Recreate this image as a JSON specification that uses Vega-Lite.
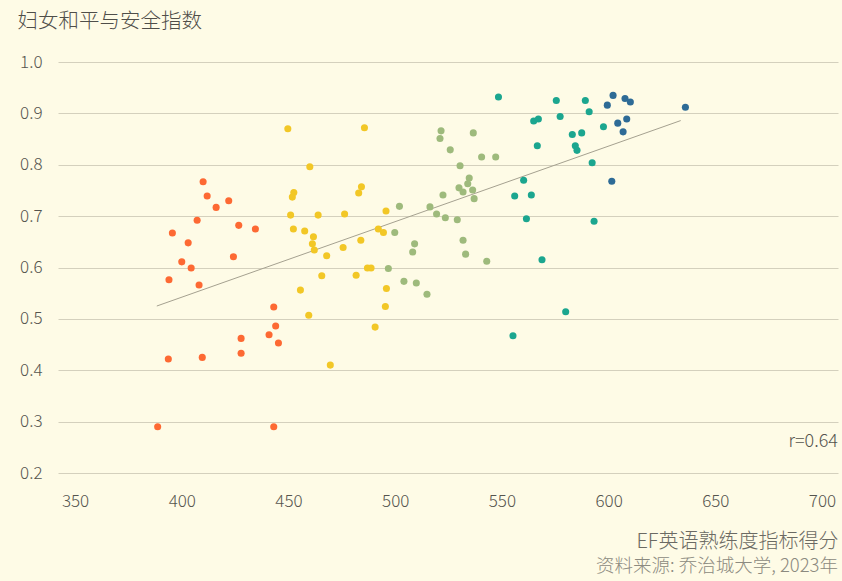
{
  "$schema": "https://vega.github.io/schema/vega-lite/v6.json",
  "autosize": {"type": "none"},
  "padding": {"left": 58, "top": 62, "right": 4, "bottom": 108},
  "width": 780,
  "height": 411,
  "background": "#fefbe6",
  "config": {
    "view": {"stroke": null},
    "font": "Noto Sans CJK SC",
    "axis": {"domain": false, "ticks": false, "labelFont": "Noto Sans CJK SC", "labelColor": "#55544e", "labelFontSize": 17, "labelFontWeight": 300, "titleFont": "Noto Sans CJK SC", "titleFontWeight": 300}
  },
  "title": {
    "text": "资料来源: 乔治城大学, 2023年",
    "orient": "bottom",
    "anchor": "end",
    "fontSize": 18.5,
    "fontWeight": 300,
    "color": "#8c8a80",
    "offset": 6
  },
  "datasets": {
    "pts": [
      {"g": "A", "x": 410.0, "y": 0.767},
      {"g": "A", "x": 411.9, "y": 0.739},
      {"g": "A", "x": 416.1, "y": 0.717},
      {"g": "A", "x": 422.0, "y": 0.730},
      {"g": "A", "x": 407.2, "y": 0.692},
      {"g": "A", "x": 426.7, "y": 0.682},
      {"g": "A", "x": 434.5, "y": 0.675},
      {"g": "A", "x": 395.6, "y": 0.667},
      {"g": "A", "x": 403.0, "y": 0.648},
      {"g": "A", "x": 424.2, "y": 0.621},
      {"g": "A", "x": 400.0, "y": 0.611},
      {"g": "A", "x": 404.4, "y": 0.599},
      {"g": "A", "x": 394.0, "y": 0.576},
      {"g": "A", "x": 408.1, "y": 0.566},
      {"g": "A", "x": 443.1, "y": 0.523},
      {"g": "A", "x": 444.0, "y": 0.486},
      {"g": "A", "x": 440.9, "y": 0.469},
      {"g": "A", "x": 445.3, "y": 0.453},
      {"g": "A", "x": 427.8, "y": 0.462},
      {"g": "A", "x": 427.8, "y": 0.433},
      {"g": "A", "x": 393.7, "y": 0.422},
      {"g": "A", "x": 409.6, "y": 0.425},
      {"g": "A", "x": 388.7, "y": 0.290},
      {"g": "A", "x": 443.1, "y": 0.290},
      {"g": "B", "x": 460.0, "y": 0.796},
      {"g": "B", "x": 452.5, "y": 0.746},
      {"g": "B", "x": 451.8, "y": 0.737},
      {"g": "B", "x": 451.0, "y": 0.702},
      {"g": "B", "x": 463.9, "y": 0.702},
      {"g": "B", "x": 452.3, "y": 0.675},
      {"g": "B", "x": 457.6, "y": 0.671},
      {"g": "B", "x": 461.7, "y": 0.660},
      {"g": "B", "x": 461.2, "y": 0.646},
      {"g": "B", "x": 462.1, "y": 0.634},
      {"g": "B", "x": 455.6, "y": 0.556},
      {"g": "B", "x": 459.5, "y": 0.507},
      {"g": "B", "x": 449.7, "y": 0.870},
      {"g": "B", "x": 485.6, "y": 0.872},
      {"g": "B", "x": 484.2, "y": 0.757},
      {"g": "B", "x": 482.9, "y": 0.745},
      {"g": "B", "x": 476.3, "y": 0.704},
      {"g": "B", "x": 495.7, "y": 0.710},
      {"g": "B", "x": 492.1, "y": 0.675},
      {"g": "B", "x": 494.5, "y": 0.668},
      {"g": "B", "x": 467.9, "y": 0.623},
      {"g": "B", "x": 475.6, "y": 0.639},
      {"g": "B", "x": 483.9, "y": 0.653},
      {"g": "B", "x": 465.6, "y": 0.584},
      {"g": "B", "x": 481.7, "y": 0.585},
      {"g": "B", "x": 487.0, "y": 0.599},
      {"g": "B", "x": 488.7, "y": 0.599},
      {"g": "B", "x": 495.9, "y": 0.559},
      {"g": "B", "x": 495.4, "y": 0.524},
      {"g": "B", "x": 490.6, "y": 0.484},
      {"g": "B", "x": 469.6, "y": 0.410},
      {"g": "C", "x": 502.0, "y": 0.719},
      {"g": "C", "x": 499.8, "y": 0.668},
      {"g": "C", "x": 509.1, "y": 0.646},
      {"g": "C", "x": 508.2, "y": 0.630},
      {"g": "C", "x": 496.8, "y": 0.598},
      {"g": "C", "x": 504.1, "y": 0.573},
      {"g": "C", "x": 509.9, "y": 0.570},
      {"g": "C", "x": 514.9, "y": 0.548},
      {"g": "C", "x": 521.5, "y": 0.866},
      {"g": "C", "x": 521.0, "y": 0.851},
      {"g": "C", "x": 536.6, "y": 0.862},
      {"g": "C", "x": 525.8, "y": 0.829},
      {"g": "C", "x": 540.5, "y": 0.815},
      {"g": "C", "x": 547.1, "y": 0.815},
      {"g": "C", "x": 530.4, "y": 0.798},
      {"g": "C", "x": 534.7, "y": 0.774},
      {"g": "C", "x": 534.0, "y": 0.763},
      {"g": "C", "x": 529.9, "y": 0.755},
      {"g": "C", "x": 531.8, "y": 0.747},
      {"g": "C", "x": 536.3, "y": 0.751},
      {"g": "C", "x": 537.0, "y": 0.734},
      {"g": "C", "x": 522.4, "y": 0.741},
      {"g": "C", "x": 516.3, "y": 0.718},
      {"g": "C", "x": 519.4, "y": 0.704},
      {"g": "C", "x": 523.5, "y": 0.697},
      {"g": "C", "x": 529.1, "y": 0.693},
      {"g": "C", "x": 531.8, "y": 0.653},
      {"g": "C", "x": 533.0, "y": 0.626},
      {"g": "C", "x": 542.9, "y": 0.612},
      {"g": "D", "x": 548.4, "y": 0.932},
      {"g": "D", "x": 575.5, "y": 0.925},
      {"g": "D", "x": 589.1, "y": 0.925},
      {"g": "D", "x": 590.9, "y": 0.903},
      {"g": "D", "x": 577.3, "y": 0.894},
      {"g": "D", "x": 564.9, "y": 0.885},
      {"g": "D", "x": 567.1, "y": 0.889},
      {"g": "D", "x": 597.6, "y": 0.874},
      {"g": "D", "x": 583.0, "y": 0.859},
      {"g": "D", "x": 587.4, "y": 0.862},
      {"g": "D", "x": 566.6, "y": 0.837},
      {"g": "D", "x": 584.4, "y": 0.837},
      {"g": "D", "x": 585.2, "y": 0.828},
      {"g": "D", "x": 592.3, "y": 0.804},
      {"g": "D", "x": 560.2, "y": 0.770},
      {"g": "D", "x": 556.0, "y": 0.739},
      {"g": "D", "x": 563.8, "y": 0.741},
      {"g": "D", "x": 561.5, "y": 0.695},
      {"g": "D", "x": 593.2, "y": 0.690},
      {"g": "D", "x": 568.8, "y": 0.615},
      {"g": "D", "x": 579.9, "y": 0.514},
      {"g": "D", "x": 555.2, "y": 0.467},
      {"g": "E", "x": 602.1, "y": 0.935},
      {"g": "E", "x": 607.7, "y": 0.929},
      {"g": "E", "x": 610.2, "y": 0.922},
      {"g": "E", "x": 599.4, "y": 0.916},
      {"g": "E", "x": 604.3, "y": 0.881},
      {"g": "E", "x": 608.5, "y": 0.889},
      {"g": "E", "x": 606.8, "y": 0.864},
      {"g": "E", "x": 601.5, "y": 0.768},
      {"g": "E", "x": 636.0, "y": 0.912}
    ],
    "trend": [
      {"x": 388.3, "y": 0.525},
      {"x": 633.8, "y": 0.886}
    ],
    "note": [
      {"label": "r=0.64"}
    ]
  },
  "layer": [
    {
      "data": {"name": "trend"},
      "mark": {"type": "line", "color": "#a5a190", "strokeWidth": 1},
      "encoding": {
        "x": {
          "field": "x", "type": "quantitative",
          "scale": {"domain": [342, 707.5], "nice": false, "zero": false},
          "axis": {"values": [350, 400, 450, 500, 550, 600, 650, 700], "grid": false, "labelPadding": 20,
            "title": "EF英语熟练度指标得分", "titleFontSize": 20, "titleColor": "#6b6a63",
            "titleAnchor": "end", "titleAlign": "right", "titleBaseline": "middle", "titleX": 780, "titleY": 68}
        },
        "y": {
          "field": "y", "type": "quantitative",
          "scale": {"domain": [0.2, 1.0], "nice": false, "zero": false},
          "axis": {"values": [0.2, 0.3, 0.4, 0.5, 0.6, 0.7, 0.8, 0.9, 1.0], "format": ".1f", "grid": true,
            "gridColor": "#d4d0bd", "gridWidth": 1, "labelPadding": 16,
            "title": "妇女和平与安全指数", "titleFontSize": 20.5, "titleColor": "#4f4e49", "titleAngle": 0,
            "titleAlign": "left", "titleBaseline": "middle", "titleX": -41, "titleY": -41}
        }
      }
    },
    {
      "data": {"name": "pts"},
      "mark": {"type": "circle", "size": 50, "opacity": 1},
      "encoding": {
        "x": {"field": "x", "type": "quantitative"},
        "y": {"field": "y", "type": "quantitative"},
        "color": {"field": "g", "type": "nominal", "legend": null,
          "scale": {"domain": ["A", "B", "C", "D", "E"], "range": ["#fd6933", "#f2c726", "#9eba7c", "#1ba68f", "#2e6b96"]}}
      }
    },
    {
      "data": {"name": "note"},
      "mark": {"type": "text", "align": "right", "baseline": "middle", "fontSize": 18, "fontWeight": 300, "color": "#55544e"},
      "encoding": {
        "x": {"datum": 707.5},
        "y": {"datum": 0.261},
        "text": {"field": "label", "type": "nominal"}
      }
    }
  ]
}
